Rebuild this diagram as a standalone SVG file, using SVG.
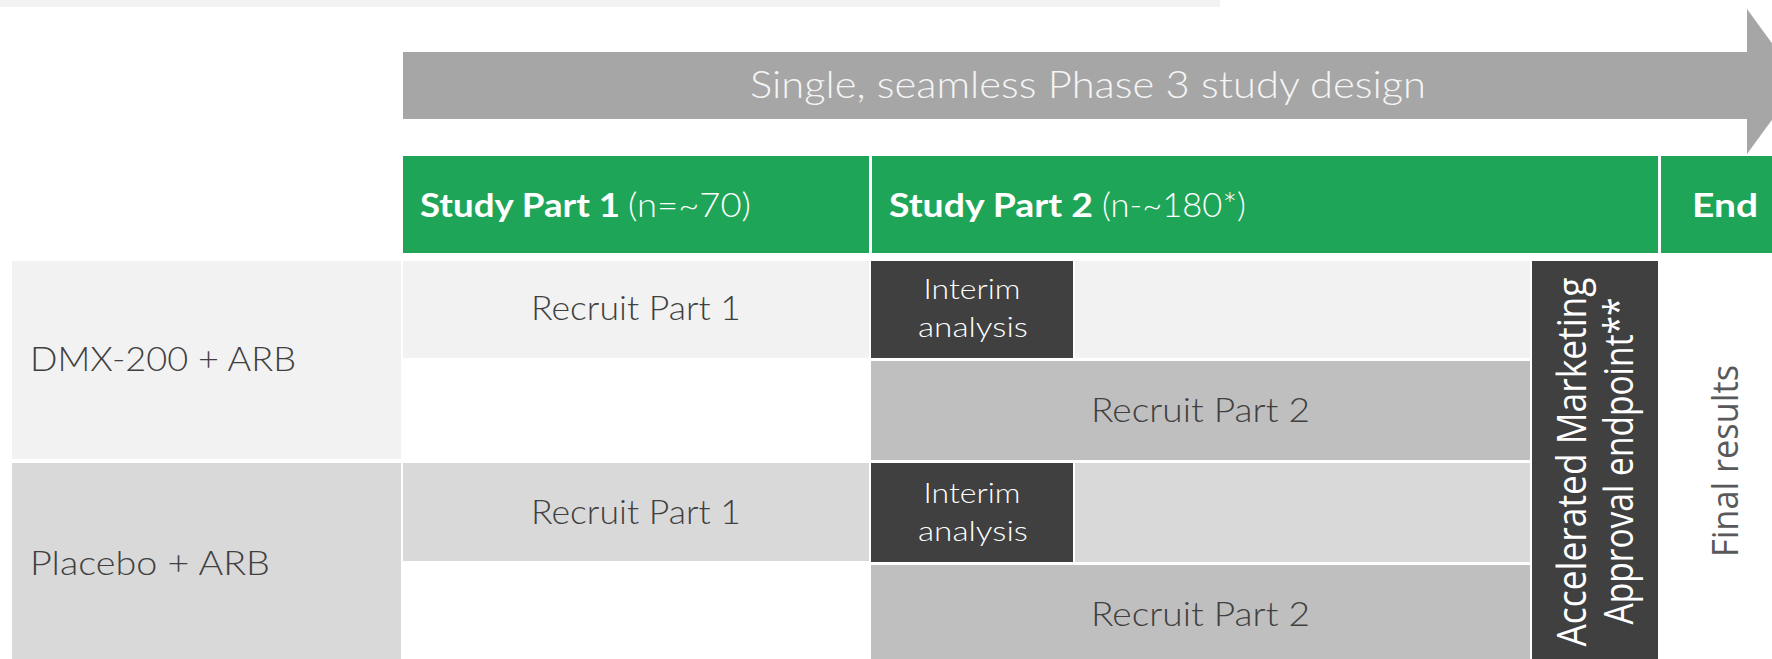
<svg xmlns="http://www.w3.org/2000/svg" width="1772" height="659" viewBox="0 0 1772 659">
  <style>
    .t { font-family: Lato, "Liberation Sans", sans-serif; font-weight: 300; }
    .b { font-family: Lato, "Liberation Sans", sans-serif; font-weight: 700; fill: #ffffff; }
    .dark { fill: #404040; }
    .light { fill: #ffffff; }
    .v { font-family: "Open Sans", "Liberation Sans", sans-serif; font-weight: 400; }
    .green { fill: #1fa557; }
  </style>
  <rect width="1772" height="659" fill="#ffffff"/>

  <!-- thin band along the top -->
  <rect x="0" y="0" width="1220" height="7" fill="#f2f2f2"/>

  <!-- timeline arrow -->
  <g id="timeline">
    <polygon points="403,52 1747,52 1747,9 1800,81.5 1747,154 1747,119 403,119" fill="#a6a6a6"/>
    <text class="t" x="750" y="98" font-size="37" fill="#f5f5f5" textLength="676" lengthAdjust="spacingAndGlyphs">Single, seamless Phase 3 study design</text>
  </g>

  <!-- phase headers -->
  <g id="header-part1">
    <rect class="green" x="403" y="156" width="466" height="97"/>
    <text class="b" x="420" y="217" font-size="33" textLength="200" lengthAdjust="spacingAndGlyphs">Study Part 1</text>
    <text class="t light" x="628" y="217" font-size="34" textLength="123" lengthAdjust="spacingAndGlyphs">(n=~70)</text>
  </g>
  <g id="header-part2">
    <rect class="green" x="872" y="156" width="786" height="97"/>
    <text class="b" x="889" y="217" font-size="33" textLength="204" lengthAdjust="spacingAndGlyphs">Study Part 2</text>
    <text class="t light" x="1102" y="217" font-size="34" textLength="144" lengthAdjust="spacingAndGlyphs">(n-~180*)</text>
  </g>
  <g id="header-end">
    <rect class="green" x="1661" y="156" width="111" height="97"/>
    <text class="b" x="1692" y="217" font-size="33" textLength="66" lengthAdjust="spacingAndGlyphs">End</text>
  </g>

  <!-- treatment arms -->
  <g id="arm-dmx">
    <rect x="12" y="261" width="389" height="198" fill="#f2f2f2"/>
    <text class="t dark" x="30" y="371" font-size="34" textLength="266" lengthAdjust="spacingAndGlyphs">DMX-200 + ARB</text>
  </g>
  <g id="arm-placebo">
    <rect x="12" y="463" width="389" height="196" fill="#d9d9d9"/>
    <text class="t dark" x="30" y="575" font-size="34" textLength="240" lengthAdjust="spacingAndGlyphs">Placebo + ARB</text>
  </g>

  <!-- part 1 recruitment -->
  <g id="recruit1-dmx">
    <rect x="403" y="261" width="466" height="97" fill="#f2f2f2"/>
    <text class="t dark" x="531" y="320" font-size="33" textLength="210" lengthAdjust="spacingAndGlyphs">Recruit Part 1</text>
  </g>
  <g id="recruit1-placebo">
    <rect x="403" y="463" width="466" height="98" fill="#d9d9d9"/>
    <text class="t dark" x="531" y="524" font-size="33" textLength="210" lengthAdjust="spacingAndGlyphs">Recruit Part 1</text>
  </g>

  <!-- part 2: follow-on bands -->
  <rect x="1075" y="261" width="455" height="97" fill="#f2f2f2"/>
  <rect x="1075" y="463" width="455" height="99" fill="#d9d9d9"/>

  <g id="interim-dmx">
    <rect x="871" y="261" width="202" height="97" fill="#404040"/>
    <text class="t light" x="923.5" y="299" font-size="28" textLength="97" lengthAdjust="spacingAndGlyphs">Interim</text>
    <text class="t light" x="918" y="337" font-size="28" textLength="110" lengthAdjust="spacingAndGlyphs">analysis</text>
  </g>
  <g id="interim-placebo">
    <rect x="871" y="463" width="202" height="99" fill="#404040"/>
    <text class="t light" x="923.5" y="503" font-size="28" textLength="97" lengthAdjust="spacingAndGlyphs">Interim</text>
    <text class="t light" x="918" y="541" font-size="28" textLength="110" lengthAdjust="spacingAndGlyphs">analysis</text>
  </g>

  <g id="recruit2-dmx">
    <rect x="871" y="361" width="659" height="99" fill="#bfbfbf"/>
    <text class="t dark" x="1091" y="422" font-size="34" textLength="219" lengthAdjust="spacingAndGlyphs">Recruit Part 2</text>
  </g>
  <g id="recruit2-placebo">
    <rect x="871" y="565" width="659" height="94" fill="#bfbfbf"/>
    <text class="t dark" x="1091" y="626" font-size="34" textLength="219" lengthAdjust="spacingAndGlyphs">Recruit Part 2</text>
  </g>

  <!-- accelerated approval milestone -->
  <g id="ama-endpoint">
    <rect x="1532" y="261" width="126" height="398" fill="#404040"/>
    <text class="v light" transform="translate(1586,462) rotate(-90)" x="0" y="0" font-size="41" text-anchor="middle" textLength="369" lengthAdjust="spacingAndGlyphs">Accelerated Marketing</text>
    <text class="v light" transform="translate(1633,461) rotate(-90)" x="0" y="0" font-size="41" text-anchor="middle" textLength="327" lengthAdjust="spacingAndGlyphs">Approval endpoint**</text>
  </g>

  <!-- end of study -->
  <g id="final-results">
    <text class="v" transform="translate(1738,461) rotate(-90)" x="0" y="0" font-size="36" fill="#595959" text-anchor="middle" textLength="192" lengthAdjust="spacingAndGlyphs">Final results</text>
  </g>

  <g id="connectors"/>
</svg>
